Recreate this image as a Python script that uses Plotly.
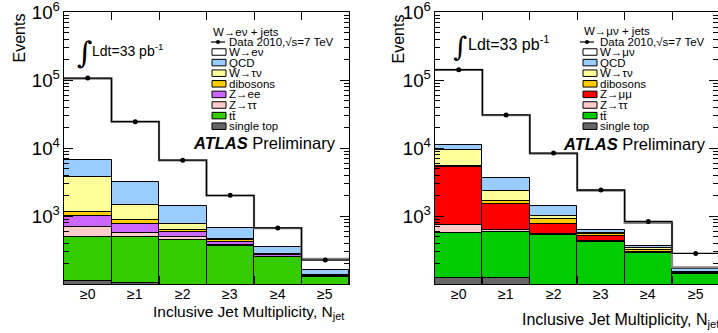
import numpy as np
import plotly.graph_objects as go

W, H = 718, 333

categories = ["≥0", "≥1", "≥2", "≥3", "≥4", "≥5"]

# ---- W -> e nu + jets (left panel) ----
e_data = [107000, 24500, 6670, 2030, 675, 227]
e_single_top = [111, 106, 70, 50, 30, 15]
e_ttbar = [386, 391, 384, 311, 219, 112]
e_ztautau = [193, 78, 37, 22, 6, 2]
e_zee = [303, 208, 91, 36, 11, 2]
e_dibosons = [147, 102, 56, 24, 4, 2]
e_wtaunu = [2650, 575, 119, 20, 6, 5]
e_qcd = [2960, 1760, 653, 212, 74, 26]
e_wenu = [98250, 21280, 5190, 1325, 320, 73]

# ---- W -> mu nu + jets (right panel) ----
m_data = [142000, 30800, 8470, 2430, 837, 285]
m_single_top = [126, 122, 70, 50, 30, 15]
m_ttbar = [449, 467, 468, 375, 258, 126]
m_ztautau = [165, 49, 19, 8, 2, 2]
m_zmumu = [4570, 872, 216, 75, 10, 3]
m_dibosons = [250, 160, 124, 42, 20, 4]
m_wtaunu = [3820, 680, 96, 25, 21, 4]
m_qcd = [1820, 1340, 407, 55, 20, 15]
m_wmunu = [130800, 26800, 6900, 1750, 440, 8]

# stacks, bottom -> top: (label, values, colour)
e_stack = [
    ("single top", e_single_top, "#666666"),
    ("tt\u0304", e_ttbar, "#33cc00"),
    ("Z\u2192\u03c4\u03c4", e_ztautau, "#ffcccc"),
    ("Z\u2192ee", e_zee, "#cc66ff"),
    ("dibosons", e_dibosons, "#ffcc00"),
    ("W\u2192\u03c4\u03bd", e_wtaunu, "#ffff99"),
    ("QCD", e_qcd, "#99ccff"),
    ("W\u2192e\u03bd", e_wenu, "#ffffff"),
]
m_stack = [
    ("single top", m_single_top, "#666666"),
    ("tt\u0304", m_ttbar, "#00cc00"),
    ("Z\u2192\u03c4\u03c4", m_ztautau, "#ffcccc"),
    ("Z\u2192\u03bc\u03bc", m_zmumu, "#ff0000"),
    ("dibosons", m_dibosons, "#ffcc00"),
    ("W\u2192\u03c4\u03bd", m_wtaunu, "#ffff99"),
    ("QCD", m_qcd, "#99ccff"),
    ("W\u2192\u03bc\u03bd", m_wmunu, "#ffffff"),
]

FONT = "Liberation Sans, Arial, Helvetica, sans-serif"


def px(x):
    return x / W


def py(y):
    return 1 - y / H


fig = go.Figure()
shapes = []
annotations = []


def add_panel(stack, data, xa, ya):
    xs = np.arange(len(categories))
    vals = [np.array(v, dtype=float) for _, v, _ in stack]
    bases = np.cumsum([np.zeros(len(xs))] + vals[:-1], axis=0)
    total = np.sum(vals, axis=0)
    # draw top component first so lower outlines stay on top
    for i in reversed(range(len(stack))):
        name, v, col = stack[i]
        is_top = i == len(stack) - 1
        fig.add_trace(go.Bar(
            x=xs, y=vals[i], base=bases[i] if i > 0 else None, width=1.0,
            marker=dict(color=col, line=dict(color="black", width=0 if is_top else 1)),
            xaxis=xa, yaxis=ya, showlegend=False, hoverinfo="skip"))
    edges = np.arange(len(xs) + 1) - 0.5
    fig.add_trace(go.Scatter(
        x=edges, y=np.append(total, total[-1]), mode="lines", line_shape="hv",
        line=dict(color="#888888", width=2.2), xaxis=xa, yaxis=ya,
        showlegend=False, hoverinfo="skip"))
    d = np.array(data, dtype=float)
    fig.add_trace(go.Scatter(
        x=edges, y=np.append(d, d[-1]), mode="lines", line_shape="hv",
        line=dict(color="black", width=1.3), xaxis=xa, yaxis=ya,
        showlegend=False, hoverinfo="skip"))
    fig.add_trace(go.Scatter(
        x=xs, y=d, mode="markers", marker=dict(color="black", size=5),
        xaxis=xa, yaxis=ya, showlegend=False, hoverinfo="skip"))
    # category labels under each bin
    for i, c in enumerate(categories):
        annotations.append(dict(text=c, x=i, y=py(294), xref=xa, yref="paper",
                                xanchor="center", yanchor="middle", showarrow=False,
                                font=dict(size=14, family=FONT, color="black")))


add_panel(e_stack, e_data, "x", "y")
add_panel(m_stack, m_data, "x2", "y2")


def add_legend(stack, header, xb0, xb1, xt, hy, dy, rows, fs, bh, dl0, dl1):
    annotations.append(dict(text=header, x=px(xb0 - 1), y=py(hy), xref="paper", yref="paper",
                            xanchor="left", yanchor="middle", showarrow=False,
                            font=dict(size=fs, family=FONT, color="black")))
    shapes.append(dict(type="line", x0=px(dl0), x1=px(dl1), y0=py(dy), y1=py(dy),
                       xref="paper", yref="paper", line=dict(color="black", width=1.2)))
    cx = (dl0 + dl1) / 2
    shapes.append(dict(type="circle", x0=px(cx - 2), x1=px(cx + 2), y0=py(dy - 2), y1=py(dy + 2),
                       xref="paper", yref="paper", fillcolor="black", line=dict(color="black", width=0)))
    annotations.append(dict(text="Data 2010,\u221as=7 TeV", x=px(xt), y=py(dy), xref="paper",
                            yref="paper", xanchor="left", yanchor="middle", showarrow=False,
                            font=dict(size=fs, family=FONT, color="black")))
    for (name, _, col), ry in zip(reversed(stack), rows):
        shapes.append(dict(type="rect", x0=px(xb0), x1=px(xb1), y0=py(ry - bh / 2), y1=py(ry + bh / 2),
                           xref="paper", yref="paper", fillcolor=col,
                           line=dict(color="black", width=1)))
        annotations.append(dict(text=name, x=px(xt), y=py(ry), xref="paper", yref="paper",
                                xanchor="left", yanchor="middle", showarrow=False,
                                font=dict(size=fs, family=FONT, color="black")))


ROWS = [52, 62.6, 73.2, 83.8, 94.4, 105, 115.6, 126.2]
add_legend(e_stack, "W\u2192e\u03bd + jets", 212, 226, 227, 32, 42,
           ROWS, 11.5, 6.5, 211, 225)
add_legend(m_stack, "W\u2192\u03bc\u03bd + jets", 583, 597, 598, 31, 42,
           ROWS, 11.5, 6.5, 580, 594)

# ATLAS Preliminary
for ax_, ay_ in [(338, 143), (708, 144)]:
    annotations.append(dict(text="<b><i>ATLAS</i></b> Preliminary", x=px(ax_), y=py(ay_),
                            xref="paper", yref="paper", xanchor="right", yanchor="middle",
                            showarrow=False, font=dict(size=16.5, family=FONT, color="black")))

# Luminosity labels
for ix, iy, tx, ty, fs, isz in [(85, 52, 90, 50, 14, 30), (460, 46, 466, 43, 16, 27)]:
    annotations.append(dict(text="\u222b", x=px(ix), y=py(iy), xref="paper", yref="paper",
                            xanchor="center", yanchor="middle", showarrow=False,
                            font=dict(size=isz, family="DejaVu Serif", color="black")))
    annotations.append(dict(text="Ldt=33 pb<sup>-1</sup>", x=px(tx), y=py(ty), xref="paper",
                            yref="paper", xanchor="left", yanchor="middle", showarrow=False,
                            font=dict(size=fs, family=FONT, color="black")))

# Axis titles
for ex, ey in [(19, 12), (398, 12)]:
    annotations.append(dict(text="Events", x=px(ex), y=py(ey), xref="paper", yref="paper",
                            xanchor="center", yanchor="top", textangle=-90, showarrow=False,
                            font=dict(size=16, family=FONT, color="black")))
for tx, ty, fs in [(346, 312, 15.5), (722, 320, 16)]:
    annotations.append(dict(text="Inclusive Jet Multiplicity, N<sub>jet</sub>", x=px(tx), y=py(ty),
                            xref="paper", yref="paper", xanchor="right", yanchor="middle",
                            showarrow=False, font=dict(size=fs, family=FONT, color="black")))

edges_all = [i - 0.5 for i in range(len(categories) + 1)]
ydom = [1 - 284 / H, 1 - 12 / H]
yaxis_common = dict(type="log", range=[2.005, 6.0005], dtick=1, exponentformat="power",
                    automargin=False, ticklabeloverflow="allow",
                    showline=True, linecolor="black", linewidth=1.2, mirror="allticks",
                    ticks="inside", ticklen=9, tickcolor="black", showgrid=False, zeroline=False,
                    tickfont=dict(size=15, family=FONT, color="black"),
                    minor=dict(ticks="inside", ticklen=5, tickcolor="black", showgrid=False))
xaxis_common = dict(tickvals=edges_all, ticktext=[""] * len(edges_all), automargin=False,
                    showline=True, linecolor="black", linewidth=1.2, mirror="allticks",
                    ticks="inside", ticklen=8, tickcolor="black", showgrid=False, zeroline=False,
                    tickfont=dict(size=14, family=FONT, color="black"))

fig.update_layout(
    width=W, height=H, margin=dict(l=0, r=0, t=0, b=0, pad=0, autoexpand=False),
    paper_bgcolor="white", plot_bgcolor="white",
    barmode="overlay", bargap=0, showlegend=False,
    xaxis=dict(domain=[64 / W, 349 / W], range=[-0.5, 5.5], anchor="y", **xaxis_common),
    yaxis=dict(domain=ydom, anchor="x", **yaxis_common),
    xaxis2=dict(domain=[435 / W, 1.0], range=[-0.5, 5.47], anchor="y2", **xaxis_common),
    yaxis2=dict(domain=ydom, anchor="x2", **yaxis_common),
    shapes=shapes, annotations=annotations,
)

fig.write_html("out.html", config={"displayModeBar": False},
               post_script="document.body.style.margin='0px';"
                           "document.body.style.overflow='hidden';")
